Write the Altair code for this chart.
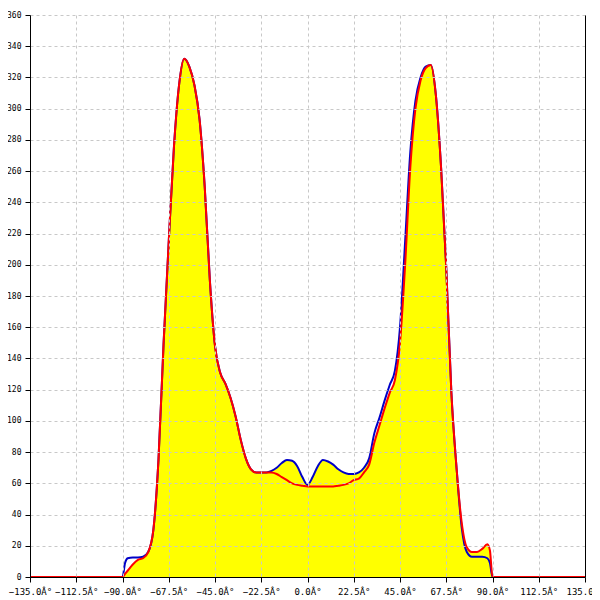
import altair as alt
import pandas as pd

angles = [-135, -90, -88.75, -87.5, -85, -82.5, -80, -77.5, -75, -72.5, -70, -67.5, -65, -62.5,
          -60, -57.5, -55, -52.5, -50, -47.5, -45, -42.5, -40, -37.5, -35, -32.5, -30, -27.5,
          -25, -22.5, -20, -17.5, -15, -12.5, -10, -7.5, -5, -2.5, 0, 2.5, 5, 7.5, 10, 12.5,
          15, 17.5, 20, 22.5, 25, 27.5, 30, 32.5, 35, 37.5, 40, 42.5, 45, 47.5, 50, 52.5,
          55, 57.5, 60, 62.5, 65, 67.5, 70, 72.5, 75, 77.5, 80, 82.5, 85, 87.5, 88.75, 90, 135]

red_vals = [0, 0, 2, 4, 8, 11, 12, 16, 30, 75, 150, 215, 275, 315,
            332, 327, 315, 293, 250, 190, 148, 131, 124, 115, 103, 88, 76, 69,
            67, 67, 67, 67, 66, 64, 62, 60, 59, 58.5, 58, 58, 58, 58, 58, 58,
            58.5, 59, 60, 62, 63, 67, 72, 86, 97, 108, 118, 126, 150, 200, 262, 300,
            318, 326, 328, 308, 262, 198, 118, 70, 35, 19, 16, 16, 18, 21, 17, 0, 0]

blue_vals = [0, 0, 9, 12, 12.5, 12.5, 13, 16, 30, 75, 150, 215, 275, 315,
             332, 327, 315, 293, 250, 190, 148, 131, 124, 115, 103, 88, 76, 69,
             67, 67, 67, 68, 70, 73, 75, 74.5, 71, 64, 59, 64, 71, 75, 74, 72,
             69, 67, 66, 66, 67, 70, 76, 92, 102, 113, 123, 132, 160, 215, 272, 305,
             320, 327, 328, 308, 262, 198, 118, 70, 32, 16, 13, 13, 13, 12, 9, 0, 0]

fill_vals = [0, 0, 2, 4, 8, 11, 12, 16, 30, 75, 150, 215, 275, 315,
             332, 327, 315, 293, 250, 190, 148, 131, 124, 115, 103, 88, 76, 69,
             67, 67, 67, 68, 70, 73, 75, 74.5, 71, 64, 59, 64, 71, 75, 74, 72,
             69, 67, 66, 66, 67, 70, 76, 86, 97, 108, 118, 126, 150, 200, 262, 300,
             318, 326, 328, 308, 262, 198, 118, 70, 35, 19, 16, 16, 18, 21, 17, 0, 0]

x_ticks = [-135, -112.5, -90, -67.5, -45, -22.5, 0, 22.5, 45, 67.5, 90, 112.5, 135]
y_ticks = list(range(0, 361, 20))

df = pd.DataFrame({"angle": angles, "red": red_vals, "blue": blue_vals, "fill": fill_vals})

xscale = alt.Scale(domain=[-135, 135], nice=False, zero=False)
yscale = alt.Scale(domain=[0, 360], nice=False)

xaxis = alt.Axis(values=x_ticks, labelExpr="format(datum.value, '.1f') + 'Â°'", title=None,
                 grid=True, gridDash=[3, 3], gridColor="#c8c8c8", domainColor="black",
                 tickColor="black", tickSize=5, labelFont="DejaVu Sans Mono", labelFontSize=9,
                 labelColor="black", labelPadding=5, labelFlush=False, labelOverlap=False, zindex=1)
yaxis = alt.Axis(values=y_ticks, title=None, grid=True, gridDash=[3, 3], gridColor="#c8c8c8",
                 domainColor="black", tickColor="black", tickSize=5, labelFont="DejaVu Sans Mono",
                 labelFontSize=8, labelColor="black", labelPadding=4, zindex=1)

x_enc = alt.X("angle:Q", scale=xscale, axis=xaxis)

area = alt.Chart(df).mark_area(color="#ffff00", interpolate="monotone").encode(
    x=x_enc, y=alt.Y("fill:Q", scale=yscale, axis=yaxis))
blue = alt.Chart(df).mark_line(color="#0000c8", strokeWidth=2, interpolate="monotone").encode(
    x=x_enc, y=alt.Y("blue:Q", scale=yscale, axis=None))
red = alt.Chart(df).mark_line(color="#ff0000", strokeWidth=2, interpolate="monotone").encode(
    x=x_enc, y=alt.Y("red:Q", scale=yscale, axis=None))
border = alt.Chart(df).mark_line(opacity=0).encode(
    x=x_enc, y=alt.Y("red:Q", scale=yscale,
                     axis=alt.Axis(orient="right", labels=False, ticks=False, grid=False,
                                   domainColor="black", title=None, zindex=2)))

chart = alt.layer(area, blue, red, border).resolve_axis(y="independent").properties(
    width=555, height=562, autosize=alt.AutoSizeParams(type="none"),
    padding={"left": 22, "top": 7, "right": 7, "bottom": 23}, background="white"
).configure_view(stroke=None)

chart.save("out.html", embed_options={"renderer": "svg", "actions": False})
